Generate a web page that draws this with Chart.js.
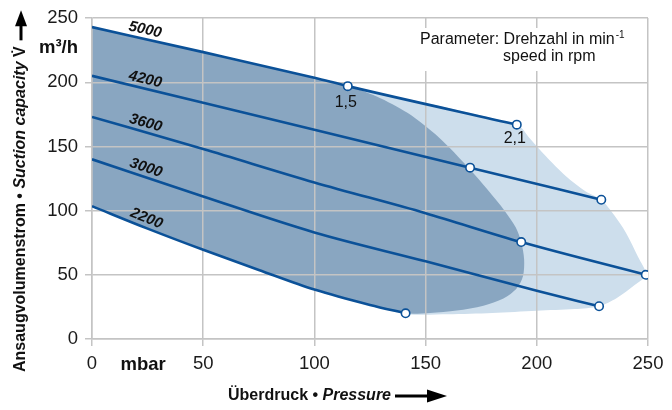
<!DOCTYPE html>
<html>
<head>
<meta charset="utf-8">
<script src="https://cdn.jsdelivr.net/npm/chart.js@4/dist/chart.umd.min.js"></script>
<style>
  html, body { margin: 0; padding: 0; background: #fff; }
</style>
</head>
<body>
<canvas id="chart" width="672" height="410"></canvas>
<script>
// speeds in rpm, one curve each
const speeds = ['5000', '4200', '3600', '3000', '2200'];

const p5000 = [0, 50, 100, 115, 191];
const q5000 = [243, 223.5, 203.5, 197, 167];
const p4200 = [0, 50, 100, 170, 229];
const q4200 = [205, 184, 163, 133.5, 108.5];
const p3600 = [0, 50, 100, 150, 193, 249];
const q3600 = [173, 148, 122, 98, 75.5, 50];
const p3000 = [0, 50, 100, 150, 200, 228];
const q3000 = [140, 111, 83, 60.5, 37.5, 25.5];
const p2200 = [0, 25, 50, 75, 100, 125, 141];
const q2200 = [103.5, 86, 69.5, 53.8, 38.5, 26.5, 20];

// indices of the open circles on each curve
const marked = [[3, 4], [3, 4], [4, 5], [5], [6]];

// motor power limits (kW), labelled at the circles on the 5000 curve
const powerLabels = ['1,5', '2,1'];

// 1,5 kW region outline
const area15P = [0, 115, 128, 142, 156, 169.5, 178, 185.5, 190.5, 193, 194.3, 193.8, 191, 185, 176, 164, 152, 141,
                 125, 100, 75, 50, 25, 0];
const area15Q = [243, 197, 189, 176, 157, 133, 116, 100, 87, 75.4, 62, 49, 39.5, 31.5, 26, 22.2, 20.3, 20,
                 26.5, 38.5, 53.8, 69.5, 86, 103.5];
// 2,1 kW region outline
const area21P = [0, 115, 191, 197, 204, 213, 222, 229, 235, 240, 245.5, 249, 244, 236, 228, 217, 200, 180, 160, 141,
                 125, 100, 75, 50, 25, 0];
const area21Q = [243, 197, 167, 156, 142.5, 127, 115, 108.5, 96, 83, 64, 50, 42, 32, 25.5, 23.3, 22, 20.2, 19.2, 19.5,
                 26.5, 38.5, 53.8, 69.5, 86, 103.5];

const pressureTicks = [0, 50, 100, 150, 200, 250];
const flowTicks = [0, 50, 100, 150, 200, 250];

const FONT = "'Liberation Sans', Arial, Helvetica, sans-serif";
const LINE = '#0b5198';
const GRID = '#c4c4c4';

function pts(xs, ys) {
  return xs.map((x, i) => ({ x: x, y: ys[i] }));
}

const curves = [[p5000, q5000], [p4200, q4200], [p3600, q3600], [p3000, q3000], [p2200, q2200]];

const lineSets = curves.map((c, k) => ({
  label: speeds[k],
  data: pts(c[0], c[1]),
  showLine: true,
  borderColor: LINE,
  borderWidth: 2.6,
  cubicInterpolationMode: 'monotone',
  fill: false,
  pointRadius: ctx => marked[k].includes(ctx.dataIndex) ? 4.2 : 0,
  pointBackgroundColor: '#fff',
  pointBorderColor: LINE,
  pointBorderWidth: 1.6
}));

function areaSet(xs, ys, color) {
  return {
    data: pts(xs, ys),
    showLine: true,
    fill: 'shape',
    backgroundColor: color,
    borderColor: 'transparent',
    borderWidth: 0,
    pointRadius: 0,
    tension: 0.3
  };
}

const annotations = {
  id: 'annotations',
  afterDraw(chart) {
    const { ctx, scales: { x, y } } = chart;
    ctx.save();
    ctx.fillStyle = '#111';

    // speed labels along each curve
    ctx.font = `italic bold 15px ${FONT}`;
    ctx.textAlign = 'center';
    ctx.textBaseline = 'middle';
    curves.forEach((c, k) => {
      const at = 23;
      const x0 = x.getPixelForValue(c[0][0]), y0 = y.getPixelForValue(c[1][0]);
      const x1 = x.getPixelForValue(c[0][1]), y1 = y.getPixelForValue(c[1][1]);
      const a = Math.atan2(y1 - y0, x1 - x0);
      const t = at / (c[0][1] - c[0][0]);
      const px = x0 + (x1 - x0) * t, py = y0 + (y1 - y0) * t;
      ctx.save();
      ctx.translate(px + Math.sin(a) * 9, py - Math.cos(a) * 9);
      ctx.rotate(a);
      ctx.fillText(speeds[k], 0, 0);
      ctx.restore();
    });

    // power labels under the 5000 circles
    ctx.font = `16px ${FONT}`;
    marked[0].forEach((idx, i) => {
      const px = x.getPixelForValue(p5000[idx]);
      const py = y.getPixelForValue(q5000[idx]);
      ctx.fillText(powerLabels[i], px - 2, py + (i === 0 ? 16 : 14));
    });

    // parameter note
    ctx.fillStyle = '#fff';
    ctx.fillRect(414, 28, 212, 43);
    ctx.fillStyle = '#111';
    ctx.textAlign = 'left';
    ctx.font = `16px ${FONT}`;
    const note = 'Parameter: Drehzahl in min';
    ctx.fillText(note, 420, 40);
    const nw = ctx.measureText(note).width;
    ctx.font = `10px ${FONT}`;
    ctx.fillText('-1', 420 + nw + 1, 35);
    ctx.font = `16px ${FONT}`;
    ctx.fillText('speed in rpm', 503, 57);

    // unit labels
    ctx.font = `bold 18.5px ${FONT}`;
    ctx.textAlign = 'right';
    ctx.fillText('m³/h', 78, 48);
    ctx.textAlign = 'center';
    ctx.fillText('mbar', x.getPixelForValue(23), 365);

    // x title with arrow
    ctx.textAlign = 'left';
    let cx = 228;
    [['Überdruck • ', 'bold'], ['Pressure', 'italic bold']].forEach(([s, st]) => {
      ctx.font = `${st} 16px ${FONT}`;
      ctx.fillText(s, cx, 396);
      cx += ctx.measureText(s).width;
    });
    ctx.strokeStyle = '#000';
    ctx.lineWidth = 3;
    ctx.beginPath();
    ctx.moveTo(cx + 4, 396);
    ctx.lineTo(cx + 38, 396);
    ctx.stroke();
    ctx.fillStyle = '#000';
    ctx.beginPath();
    ctx.moveTo(cx + 36, 389.5);
    ctx.lineTo(cx + 56, 396);
    ctx.lineTo(cx + 36, 402.5);
    ctx.closePath();
    ctx.fill();

    // y title with arrow
    ctx.save();
    ctx.translate(21, 372);
    ctx.rotate(-Math.PI / 2);
    ctx.fillStyle = '#111';
    let cy = 0;
    [['Ansaugvolumenstrom • ', 'bold'], ['Suction capacity', 'italic bold'], [' V\u0307', 'bold']].forEach(([s, st]) => {
      ctx.font = `${st} 16px ${FONT}`;
      ctx.fillText(s, cy, 0);
      cy += ctx.measureText(s).width;
    });
    ctx.beginPath();
    ctx.moveTo(cy + 6, 0);
    ctx.lineTo(cy + 22, 0);
    ctx.stroke();
    ctx.fillStyle = '#000';
    ctx.beginPath();
    ctx.moveTo(cy + 20, -6);
    ctx.lineTo(cy + 36, 0);
    ctx.lineTo(cy + 20, 6);
    ctx.closePath();
    ctx.fill();
    ctx.restore();

    ctx.restore();
  }
};

new Chart(document.getElementById('chart'), {
  type: 'scatter',
  data: {
    datasets: [
      ...lineSets,
      areaSet(area15P, area15Q, 'rgb(137,166,193)'),
      areaSet(area21P, area21Q, 'rgb(205,222,236)')
    ]
  },
  options: {
    responsive: false,
    animation: false,
    layout: { padding: { left: 0, right: 24, top: 17, bottom: 0 } },
    plugins: {
      legend: { display: false },
      tooltip: { enabled: false },
      filler: { drawTime: 'beforeDraw' }
    },
    scales: {
      x: {
        type: 'linear',
        min: 0,
        max: 250,
        afterBuildTicks: s => { s.ticks = pressureTicks.map(v => ({ value: v })); },
        afterFit: s => { s.height = 71; },
        ticks: { color: '#1a1a1a', font: { family: FONT, size: 18.5 }, padding: 7, maxRotation: 0 },
        grid: { color: GRID, lineWidth: 1.5, tickLength: 7, tickColor: GRID },
        border: { color: GRID, width: 1.5 }
      },
      y: {
        type: 'linear',
        min: 0,
        max: 250,
        afterBuildTicks: s => { s.ticks = flowTicks.map(v => ({ value: v })); },
        afterFit: s => { s.width = 92; },
        ticks: { color: '#1a1a1a', font: { family: FONT, size: 18.5 }, padding: 7 },
        grid: { color: GRID, lineWidth: 1.5, tickLength: 7, tickColor: GRID },
        border: { color: GRID, width: 1.5 }
      }
    }
  },
  plugins: [annotations]
});
</script>
</body>
</html>
